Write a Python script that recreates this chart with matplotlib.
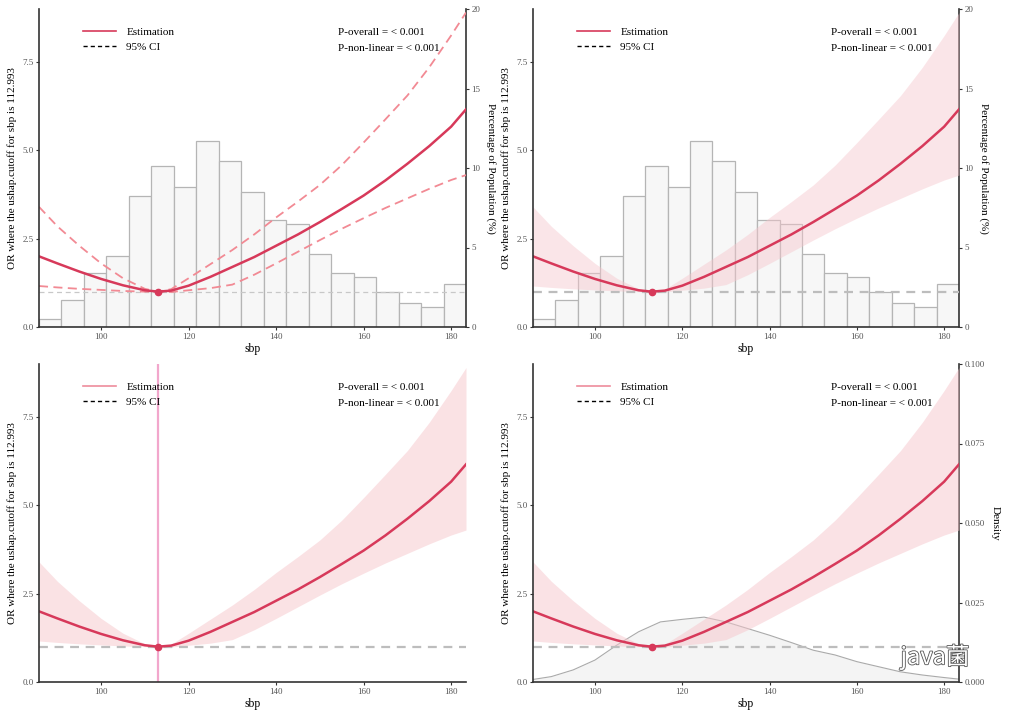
import numpy as np
import matplotlib
matplotlib.use("Agg")
import matplotlib.pyplot as plt
import matplotlib.patheffects as pe
from matplotlib.lines import Line2D

plt.rcParams["font.family"] = ["Liberation Serif", "DejaVu Serif"]

# --- data ---
sbp_min, sbp_max = 85.8, 183.4
cutoff = 112.993

sbp = [85.8, 90, 95, 100, 105, 110, 112.993, 116, 120, 125, 130, 135,
       140, 145, 150, 155, 160, 165, 170, 175, 180, 183.4]
or_est = [2.00, 1.80, 1.57, 1.36, 1.18, 1.04, 1.00, 1.03, 1.17, 1.42, 1.70, 1.98,
          2.30, 2.62, 2.97, 3.34, 3.72, 4.15, 4.62, 5.12, 5.67, 6.16]
ci_low = [1.16, 1.12, 1.08, 1.05, 1.02, 1.00, 1.00, 0.99, 1.04, 1.10, 1.20, 1.48,
          1.80, 2.13, 2.46, 2.78, 3.08, 3.37, 3.64, 3.91, 4.16, 4.30]
ci_up = [3.40, 2.85, 2.30, 1.80, 1.38, 1.08, 1.00, 1.07, 1.38, 1.78, 2.18, 2.62,
         3.10, 3.55, 4.02, 4.58, 5.22, 5.88, 6.55, 7.35, 8.25, 8.90]

hist_pct = [0.48, 1.70, 3.38, 4.49, 8.24, 10.15, 8.81, 11.68, 10.44, 8.47,
            6.75, 6.46, 4.57, 3.42, 3.14, 2.20, 1.53, 1.26, 2.68]

dens_x = [85.8, 90, 95, 100, 105, 110, 115, 120, 125, 130, 135, 140, 145,
          150, 155, 160, 165, 170, 175, 180, 183.4]
dens_y = [0.0008, 0.0017, 0.0038, 0.0069, 0.0116, 0.0158, 0.0189, 0.0197,
          0.0204, 0.0189, 0.0168, 0.0147, 0.0124, 0.0100, 0.0085, 0.0064,
          0.0048, 0.0032, 0.0022, 0.0014, 0.0009]

red = "#D7395A"
pink_ci = "#F28A94"
band = "#FADDE0"
grey_txt = "#555555"
spine_c = "#333333"

fig = plt.figure(figsize=(10.09, 7.18), dpi=100)
W, H = 1009, 718


def make_ax(l, r, t, b):
    return fig.add_axes([l / W, 1 - b / H, (r - l) / W, (b - t) / H])


def style_left(ax):
    ax.set_xlim(sbp_min, sbp_max)
    ax.set_ylim(0, 9.0)
    ax.set_xticks([100, 120, 140, 160, 180])
    ax.set_yticks([0, 2.5, 5.0, 7.5])
    ax.set_yticklabels(["0.0", "2.5", "5.0", "7.5"])
    for s in ["top", "right"]:
        ax.spines[s].set_visible(False)
    for s in ["left", "bottom"]:
        ax.spines[s].set_color(spine_c)
        ax.spines[s].set_linewidth(1.2)
    ax.tick_params(labelsize=6.5, labelcolor=grey_txt, color=spine_c,
                   length=2.5, width=0.8, pad=1.5)
    ax.set_xlabel("sbp", fontsize=8.5, labelpad=2)
    ax.set_ylabel("OR where the ushap.cutoff for sbp is 112.993", fontsize=8, labelpad=4)
    ax.set_facecolor("none")


def add_legend(ax, est_color):
    handles = [Line2D([], [], color=est_color, lw=1.2),
               Line2D([], [], color="black", lw=1.0, ls=(0, (3, 2.2)))]
    ax.legend(handles, ["Estimation", "95% CI"], loc="upper left",
              bbox_to_anchor=(0.08, 0.975), frameon=False, fontsize=8,
              handlelength=3.0, handletextpad=0.9, labelspacing=0.45)
    ax.text(0.70, 0.925, "P-overall = < 0.001", transform=ax.transAxes,
            fontsize=8, va="center")
    ax.text(0.70, 0.877, "P-non-linear = < 0.001", transform=ax.transAxes,
            fontsize=8, va="center")


def style_right(ax2, label):
    for s in ["top", "left", "bottom"]:
        ax2.spines[s].set_visible(False)
    ax2.spines["right"].set_color(spine_c)
    ax2.spines["right"].set_linewidth(1.2)
    ax2.tick_params(labelsize=6.5, labelcolor=grey_txt, color=spine_c,
                    length=2.5, width=0.8, pad=1.5)
    ax2.set_ylabel(label, fontsize=8, rotation=270, labelpad=11)


edges = np.linspace(sbp_min, sbp_max, len(hist_pct) + 1)

# ---------- top-left ----------
ax = make_ax(39, 466, 9, 327)
ax2 = ax.twinx()
ax2.bar(edges[:-1], hist_pct, width=np.diff(edges), align="edge",
        color="#F7F7F7", edgecolor="#B5B5B5", linewidth=0.9)
ax2.set_ylim(0, 20)
ax2.set_yticks([0, 5, 10, 15, 20])
style_right(ax2, "Percentage of Population (%)")
ax.set_zorder(ax2.get_zorder() + 1)
style_left(ax)
ax.axhline(1, color="#C8C8C8", lw=0.9, ls=(0, (4, 3)))
ax.plot(sbp, ci_low, color=pink_ci, lw=1.3, ls=(0, (5, 3)))
ax.plot(sbp, ci_up, color=pink_ci, lw=1.3, ls=(0, (5, 3)))
ax.plot(sbp, or_est, color=red, lw=1.8)
ax.plot([cutoff], [1.0], "o", color=red, ms=4.5)
add_legend(ax, red)

# ---------- top-right ----------
ax = make_ax(533, 959, 9, 327)
ax2 = ax.twinx()
ax2.bar(edges[:-1], hist_pct, width=np.diff(edges), align="edge",
        color="#F7F7F7", edgecolor="#B5B5B5", linewidth=0.9)
ax2.set_ylim(0, 20)
ax2.set_yticks([0, 5, 10, 15, 20])
style_right(ax2, "Percentage of Population (%)")
ax.set_zorder(ax2.get_zorder() + 1)
style_left(ax)
ax.fill_between(sbp, ci_low, ci_up, color="#F6C6CC", alpha=0.45, lw=0)
ax.axhline(1, color="#BDBDBD", lw=1.6, ls=(0, (4, 3)))
ax.plot(sbp, or_est, color=red, lw=1.8)
ax.plot([cutoff], [1.0], "o", color=red, ms=4.5)
add_legend(ax, red)

# ---------- bottom-left ----------
ax = make_ax(39, 466, 364, 682)
style_left(ax)
ax.fill_between(sbp, ci_low, ci_up, color=band, alpha=0.85, lw=0)
ax.axhline(1, color="#BDBDBD", lw=1.6, ls=(0, (4, 3)))
ax.axvline(cutoff, color="#F2A7CC", lw=1.6)
ax.plot(sbp, or_est, color=red, lw=1.8)
ax.plot([cutoff], [1.0], "o", color=red, ms=4.5)
add_legend(ax, "#EE8C9C")

# ---------- bottom-right ----------
ax = make_ax(533, 959, 364, 682)
ax2 = ax.twinx()
ax2.fill_between(dens_x, 0, dens_y, color="#F4F4F4", lw=0)
ax2.plot(dens_x, dens_y, color="#AAAAAA", lw=0.8)
ax2.set_ylim(0, 0.1)
ax2.set_yticks([0, 0.025, 0.05, 0.075, 0.1])
ax2.set_yticklabels(["0.000", "0.025", "0.050", "0.075", "0.100"])
style_right(ax2, "Density")
ax.set_zorder(ax2.get_zorder() + 1)
style_left(ax)
ax.fill_between(sbp, ci_low, ci_up, color="#F6C6CC", alpha=0.5, lw=0)
ax.axhline(1, color="#BDBDBD", lw=1.6, ls=(0, (4, 3)))
ax.plot(sbp, or_est, color=red, lw=1.8)
ax.plot([cutoff], [1.0], "o", color=red, ms=4.5)
add_legend(ax, "#EE8C9C")

# watermark
fig.text(935 / W, 1 - 657 / H, "java菌", fontsize=17, color="white",
         family=["Noto Sans CJK SC", "DejaVu Sans"], ha="center", va="center",
         path_effects=[pe.withStroke(linewidth=1.2, foreground="#555555")])

fig.savefig("out.png", dpi=100)
